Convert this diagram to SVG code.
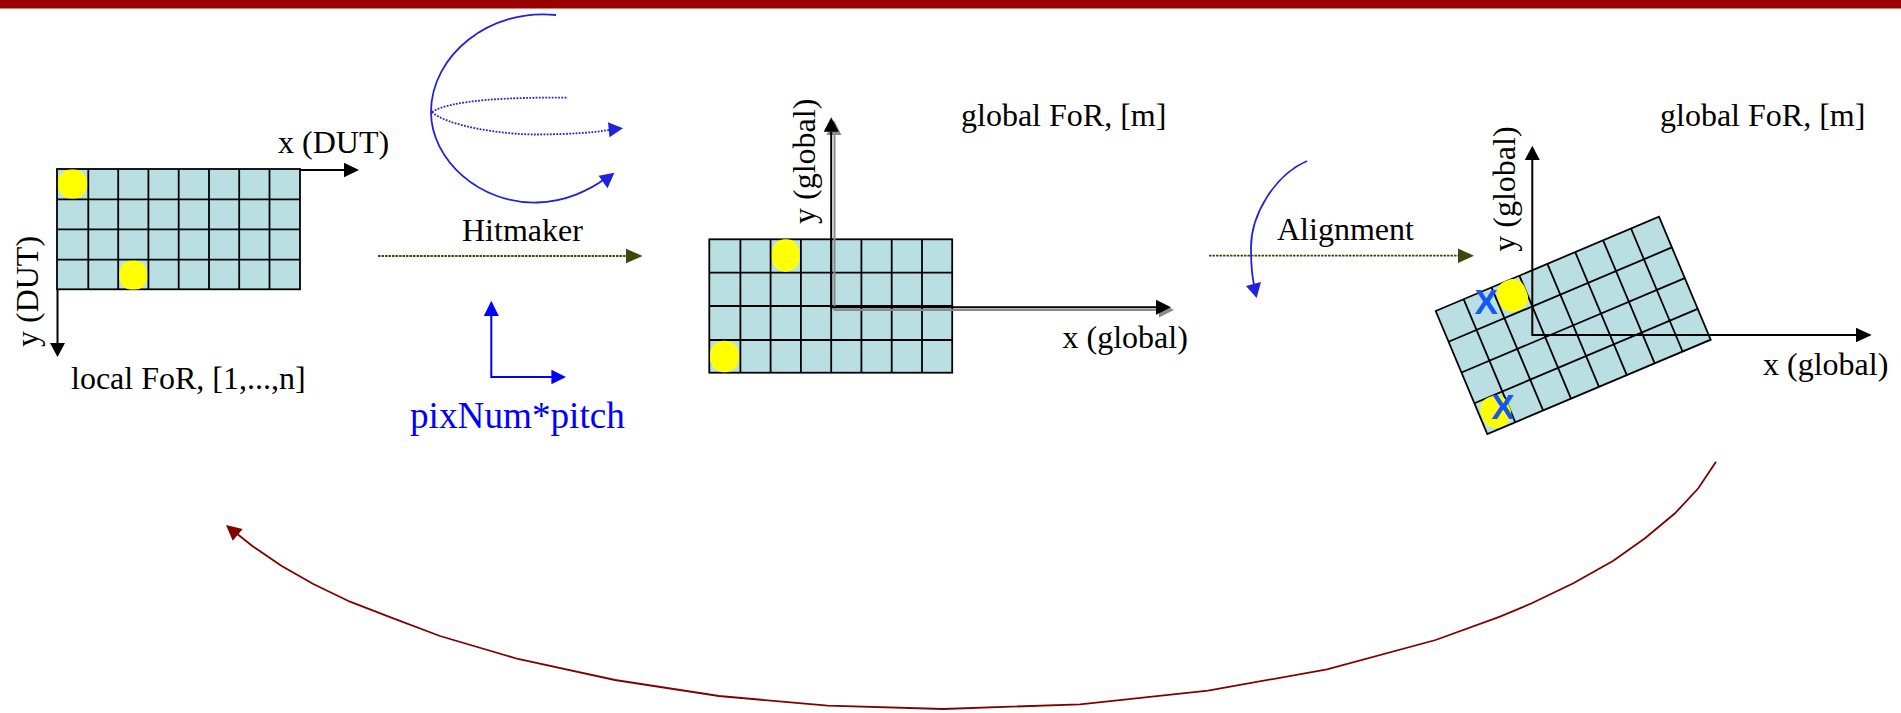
<svg xmlns="http://www.w3.org/2000/svg" width="1901" height="713" viewBox="0 0 1901 713">
<style>
text{font-family:"Liberation Serif","Times New Roman",serif;font-size:32px;fill:#000}
.grid{fill:#badfe3;stroke:#000;stroke-width:1.8}
.cell{fill:none;stroke:#000;stroke-width:1.8}
.hit{fill:#ff0}
.axis{fill:none;stroke:#000;stroke-width:2}
.shadow{fill:none;stroke:#8a8a8a;stroke-width:2}
.headk{fill:#000}
.headb{fill:#2222dd}
.blue{fill:none;stroke:#2222dd;stroke-width:1.8}
.bluedot{fill:none;stroke:#2222dd;stroke-width:1.8;stroke-dasharray:1.8 1.4}
.flow{fill:none;stroke:#3a4a0a;stroke-width:1.8;stroke-dasharray:2.5 1}
.headg{fill:#3a4a0a}
.x{font-family:"Liberation Sans",Arial,sans-serif;font-size:35px;font-weight:bold;fill:#1457f5}
</style>
<rect id="band" x="0" y="0" width="1901" height="8.5" fill="#990000"/>
<g id="grid-local">
<rect class="grid" x="57" y="169" width="243" height="120.3"/>
<path class="cell" d="M88.3 169V289.3M118.2 169V289.3M148.4 169V289.3M178.7 169V289.3M209 169V289.3M239.2 169V289.3M269.5 169V289.3M57 199.3H300M57 229.3H300M57 259.7H300"/>
<rect class="hit" x="58" y="169.5" width="29" height="29" rx="13" ry="13"/>
<rect class="hit" x="119.4" y="260.7" width="27.8" height="28.8" rx="12" ry="12"/>
<text x="278" y="153.2">x (DUT)</text>
<text transform="translate(38 347) rotate(-90)">y (DUT)</text>
<text x="71" y="389">local FoR, [1,...,n]</text>
</g>
<g id="hitmaker">
<text x="462" y="240.7">Hitmaker</text>
<text x="410" y="428.3" style="font-size:37.2px;fill:#0000ff">pixNum*pitch</text>
</g>
<g id="grid-global">
<rect class="grid" x="709.3" y="239.3" width="242.9" height="133.4"/>
<path class="cell" d="M740.4 239.3V372.7M770.6 239.3V372.7M800.9 239.3V372.7M831.2 239.3V372.7M861.4 239.3V372.7M891.7 239.3V372.7M922 239.3V372.7M709.3 272.7H952.2M709.3 306H952.2M709.3 340H952.2"/>
<rect class="hit" x="771.9" y="239.3" width="27.8" height="32.4" rx="13" ry="14"/>
<rect class="hit" x="710" y="340.7" width="29" height="31.6" rx="14" ry="14"/>
<text x="961" y="125.7">global FoR, [m]</text>
<text x="1062.5" y="348">x (global)</text>
<text transform="translate(815 224) rotate(-90)">y (global)</text>
</g>
<g id="align-label">
<text x="1277" y="240">Alignment</text>
</g>
<g id="grid-aligned">
<polygon class="grid" points="1435.7,311 1659,216.7 1710.7,339.7 1487.3,434"/>
<path class="cell" d="M1463.6 299.2L1515.2 422.2M1491.5 287.4L1543.1 410.4M1519.4 275.6L1571 398.6M1547.4 263.9L1599 386.9M1575.2 252.1L1626.8 375.1M1603.1 240.3L1654.7 363.3M1631 228.5L1682.6 351.5M1448.6 341.75L1671.9 247.45M1461.5 372.5L1684.8 278.2M1474.4 403.25L1697.7 308.95"/>
<rect class="hit" x="-14.5" y="-16" width="29" height="32" rx="13" ry="13" transform="translate(1512.5 295.5) rotate(-23)"/>
<rect class="hit" x="-14.5" y="-16" width="29" height="32" rx="13" ry="13" transform="translate(1495.8 411.7) rotate(-23)"/>
<text class="x" x="1474.6" y="314">X</text>
<text class="x" x="1491.2" y="419">X</text>
<text x="1660" y="125.7">global FoR, [m]</text>
<text x="1763" y="375">x (global)</text>
<text transform="translate(1515 251.7) rotate(-90)">y (global)</text>
</g>
<g id="connectors">
<path class="axis" d="M300 170H345"/><polygon class="headk" points="359,170 344,162.7 344,177.3"/>
<path class="axis" d="M57.5 289V344"/><polygon class="headk" points="57.5,357 50,343 65,343"/>
<path class="blue" d="M556 15C490 8 431 55 431 112C431 160 480 204 537 202.5C565 202 590 190 606 178"/>
<polygon class="headb" points="614.4,172.7 598.6,175.7 607.5,188.3"/>
<path class="bluedot" d="M432 112C450 100 510 97 568 97.7"/>
<path class="bluedot" d="M432 112C445 125 500 135 540 134.5C570 134 590 133 609 130"/>
<polygon class="headb" points="623,128.3 608,122.3 609.5,137.3"/>
<path class="flow" d="M378 256H627"/><polygon class="headg" points="642.6,256 626,248.7 626,263.3"/>
<path d="M491.3 316V377H552" fill="none" stroke="#0000ff" stroke-width="2"/>
<polygon points="491.3,300.7 483.8,316 498.8,316" fill="#0000ff"/>
<polygon points="566,377 551.4,369.7 551.4,384.3" fill="#0000ff"/>
<path class="shadow" d="M834.5 135V310H1160"/>
<polygon points="834,120 826.5,135 841.5,135" fill="#8a8a8a"/>
<polygon points="1174,310 1159,302.5 1159,317.5" fill="#8a8a8a"/>
<path class="axis" d="M831.2 132V307.3H1157"/>
<polygon class="headk" points="831.2,117.3 823.7,131.7 838.7,131.7"/>
<polygon class="headk" points="1171,307.3 1156,299.8 1156,314.8"/>
<path class="blue" d="M1307 161C1275 175 1250 215 1251 250C1251 265 1252 275 1254 285"/>
<polygon class="headb" points="1256.6,298 1246,286 1261,282"/>
<path class="flow" d="M1209 255.7H1459"/><polygon class="headg" points="1474,255.7 1458,248.4 1458,263"/>
<path class="axis" d="M1532.3 160V335H1857"/>
<polygon class="headk" points="1532.3,145.7 1524.8,160 1539.8,160"/>
<polygon class="headk" points="1871.7,335 1856,327.7 1856,342.3"/>
<polyline fill="none" stroke="#800000" stroke-width="1.8" points="1716,461.7 1698.3,488.3 1675,513.3 1645,538.3 1613.3,560.7 1573.3,583.3 1531.7,603.3 1500,616.7 1435.6,640 1327,669.3 1208,690.7 1080,704.3 943.4,709 827.7,705.7 719,696 615,680 518,659 440,636 393.3,618.3 350,601.7 313.3,584 281.7,566 253.3,546.7 236,533"/>
<polygon points="226,525 242.7,529 232.7,540.7" fill="#800000"/>
</g>
</svg>
